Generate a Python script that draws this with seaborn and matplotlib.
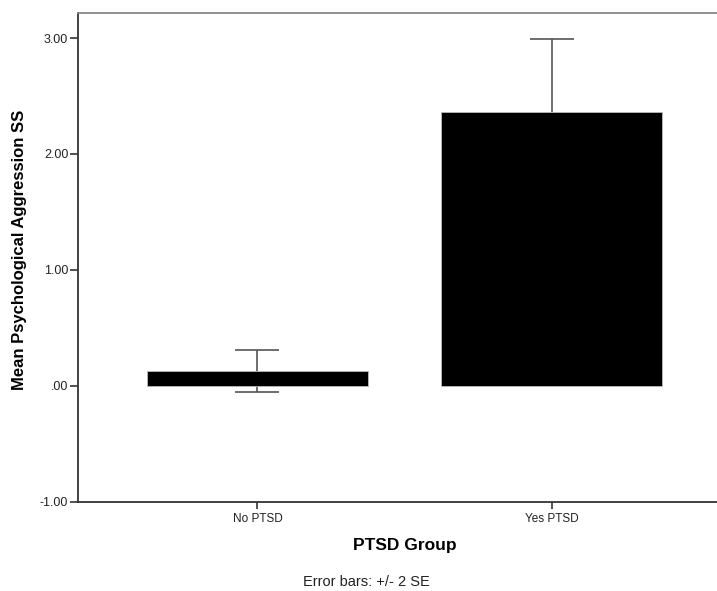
import numpy as np
import pandas as pd
import matplotlib
matplotlib.use("Agg")
import matplotlib.pyplot as plt
import seaborn as sns
from matplotlib.ticker import FuncFormatter

# 데이터
groups = ["No PTSD", "Yes PTSD"]
means = [0.125, 2.36]
err_2se = [0.182, 0.632]
y_ticks = [-1.0, 0.0, 1.0, 2.0, 3.0]

sns.set_style("white")
plt.rcParams["font.family"] = ["Liberation Sans", "DejaVu Sans"]

df = pd.DataFrame({"group": groups, "mean": means})

fig = plt.figure(figsize=(7.17, 5.91), dpi=100)
ax = fig.add_axes([78 / 717, 89.5 / 591, 1 - 78 / 717, 488.5 / 591])

sns.barplot(data=df, x="group", y="mean", color="black", width=0.75,
            errorbar=None, edgecolor="#bbbbbb", linewidth=0.6, ax=ax, zorder=3)

# 오차 막대 (+/- 2 SE), 막대 뒤에 그림
ax.errorbar(np.arange(len(groups)), means, yerr=err_2se, fmt="none",
            ecolor="#555555", elinewidth=1.2, capsize=15.8, capthick=1.2, zorder=2)

ax.set_xlim(-0.61, 1.562)
ax.set_ylim(-1.0, 3.216)
ax.set_yticks(y_ticks)
ax.yaxis.set_major_formatter(FuncFormatter(
    lambda v, p: ("-" if v < 0 else "") + ("%.2f" % abs(v)).lstrip("0")))

for side in ["left", "bottom"]:
    ax.spines[side].set_color("#333333")
    ax.spines[side].set_linewidth(1.3)
ax.spines["top"].set_color("#888888")
ax.spines["top"].set_linewidth(1.3)
ax.spines["right"].set_visible(False)

ax.tick_params(axis="y", direction="out", length=6, width=1.2, color="#333333",
               labelsize=9, labelcolor="#222222", pad=1, left=True)
ax.tick_params(axis="x", direction="out", length=5, width=1.2, color="#333333",
               labelsize=8.5, labelcolor="#222222", pad=3, bottom=True)

ax.set_ylabel("Mean Psychological Aggression SS", fontsize=12, fontweight="bold",
              color="black")
ax.yaxis.label.set_va("center")
ax.yaxis.set_label_coords(-0.0923, 0.515)
ax.set_xlabel("PTSD Group", fontsize=12.5, fontweight="bold", color="black")
ax.xaxis.label.set_va("center")
ax.xaxis.set_label_coords(0.511, -0.091)
ax.grid(False)

fig.text(366.5 / 717, 1 - 582 / 591, "Error bars: +/- 2 SE",
         ha="center", va="center", fontsize=10.5, color="#222222")

fig.savefig("out.png", dpi=100)
